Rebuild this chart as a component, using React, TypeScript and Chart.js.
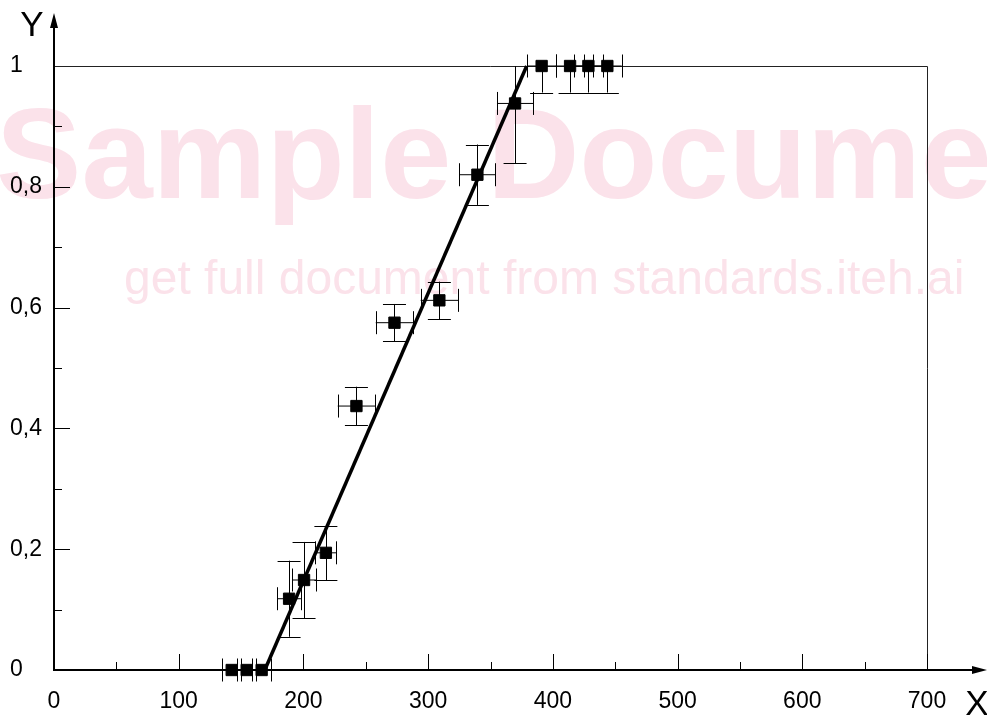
import { useEffect, useRef } from "react";
import { Chart, registerables } from "chart.js";

Chart.register(...registerables);

const xValues = [142.5, 154.5, 166.5, 188.5, 200.5, 218, 242.5, 273, 309, 339.5, 369.7, 391, 413.8, 428.5, 443.7];
const yValues = [0, 0, 0, 0.118, 0.149, 0.194, 0.437, 0.575, 0.612, 0.82, 0.938, 1, 1, 1, 1];
const xErrors = [7.5, 7.5, 7.5, 9.5, 9.5, 8.5, 15, 15, 15, 14.5, 14.5, 11.5, 11.5, 11.5, 11.5];
const yErrors = [0, 0, 0, 0.063, 0.063, 0.045, 0.032, 0.031, 0.031, 0.05, 0.099, 0.044, 0.044, 0.044, 0.044];
const fitX = [169, 379];
const fitY = [0, 1];
const xTickValues = [0, 100, 200, 300, 400, 500, 600, 700];
const yTickValues = [0, 0.2, 0.4, 0.6, 0.8, 1];
const yTickLabels = ["0", "0,2", "0,4", "0,6", "0,8", "1"];
const watermarkLine1 = "Sample Docume";
const watermarkLine2 = "get full document from standards.iteh.ai";

const FONT = "'Liberation Sans', Arial, sans-serif";

const decorPlugin = {
  id: "decor",
  beforeDraw(chart: any) {
    const ctx = chart.ctx;
    ctx.save();
    ctx.fillStyle = "#fbe2ea";
    ctx.textAlign = "left";
    ctx.textBaseline = "alphabetic";
    ctx.font = `bold 128px ${FONT}`;
    ctx.fillText(watermarkLine1, -4, 198);
    ctx.font = `48px ${FONT}`;
    ctx.fillText(watermarkLine2, 124, 294);
    ctx.restore();
  },
  beforeDatasetsDraw(chart: any) {
    const ctx = chart.ctx;
    const xs = chart.scales.x;
    const ys = chart.scales.y;
    const { left, right, top, bottom } = chart.chartArea;
    ctx.save();
    // frame
    ctx.strokeStyle = "#222";
    ctx.lineWidth = 1;
    ctx.beginPath();
    ctx.moveTo(left, Math.round(top) + 0.5);
    ctx.lineTo(Math.round(right) + 0.5, Math.round(top) + 0.5);
    ctx.lineTo(Math.round(right) + 0.5, bottom);
    ctx.stroke();
    // ticks
    ctx.strokeStyle = "#000";
    ctx.lineWidth = 1;
    ctx.beginPath();
    for (let i = 1; i <= 14; i++) {
      const v = i * 50;
      const px = Math.round(xs.getPixelForValue(v)) + 0.5;
      const len = i % 2 === 0 ? 16 : 8;
      ctx.moveTo(px, bottom);
      ctx.lineTo(px, bottom - len);
    }
    for (let i = 1; i <= 9; i++) {
      const v = i / 10;
      const py = Math.round(ys.getPixelForValue(v)) + 0.5;
      const len = i % 2 === 0 ? 16 : 8;
      ctx.moveTo(left, py);
      ctx.lineTo(left + len, py);
    }
    ctx.stroke();
    // axes
    ctx.lineWidth = 2;
    ctx.beginPath();
    ctx.moveTo(left - 1, bottom);
    ctx.lineTo(976, bottom);
    ctx.moveTo(left, bottom + 1);
    ctx.lineTo(left, 24);
    ctx.stroke();
    ctx.fillStyle = "#000";
    ctx.beginPath();
    ctx.moveTo(987, bottom);
    ctx.lineTo(972, bottom - 4);
    ctx.lineTo(972, bottom + 4);
    ctx.closePath();
    ctx.fill();
    ctx.beginPath();
    ctx.moveTo(left, 13);
    ctx.lineTo(left - 4, 28);
    ctx.lineTo(left + 4, 28);
    ctx.closePath();
    ctx.fill();
    // axis titles
    ctx.font = `35px ${FONT}`;
    ctx.textAlign = "center";
    ctx.textBaseline = "middle";
    ctx.fillText("Y", 32, 26);
    ctx.fillText("X", 977, 705);
    // error bars
    ctx.lineWidth = 1;
    ctx.strokeStyle = "#000";
    const cap = 11.5;
    ctx.beginPath();
    for (let i = 0; i < xValues.length; i++) {
      const cx = xs.getPixelForValue(xValues[i]);
      const cy = ys.getPixelForValue(yValues[i]);
      const xl = xs.getPixelForValue(xValues[i] - xErrors[i]);
      const xr = xs.getPixelForValue(xValues[i] + xErrors[i]);
      ctx.moveTo(xl, cy);
      ctx.lineTo(xr, cy);
      ctx.moveTo(Math.round(xl) + 0.5, cy - cap);
      ctx.lineTo(Math.round(xl) + 0.5, cy + cap);
      ctx.moveTo(Math.round(xr) + 0.5, cy - cap);
      ctx.lineTo(Math.round(xr) + 0.5, cy + cap);
      if (yErrors[i] > 0) {
        const lo = yValues[i] - yErrors[i];
        const hi = yValues[i] + yErrors[i];
        const ylo = ys.getPixelForValue(Math.max(0, lo));
        const yhi = ys.getPixelForValue(Math.min(1, hi));
        const vx = Math.round(cx) + 0.5;
        ctx.moveTo(vx, ylo);
        ctx.lineTo(vx, yhi);
        if (lo >= 0) {
          ctx.moveTo(cx - cap, Math.round(ylo) + 0.5);
          ctx.lineTo(cx + cap, Math.round(ylo) + 0.5);
        }
        if (hi <= 1) {
          ctx.moveTo(cx - cap, Math.round(yhi) + 0.5);
          ctx.lineTo(cx + cap, Math.round(yhi) + 0.5);
        }
      }
    }
    ctx.stroke();
    ctx.restore();
  },
};

export default function App() {
  const ref = useRef<HTMLCanvasElement>(null);
  useEffect(() => {
    const canvas = ref.current;
    if (!canvas) return;
    const points = xValues.map((x, i) => ({ x, y: yValues[i] }));
    const fit = fitX.map((x, i) => ({ x, y: fitY[i] }));
    const chart = new Chart(canvas, {
      type: "scatter",
      data: {
        datasets: [
          {
            type: "line",
            data: fit,
            borderColor: "#000",
            borderWidth: 3.5,
            pointRadius: 0,
            fill: false,
            clip: false,
            order: 2,
          } as any,
          {
            type: "scatter",
            data: points,
            pointStyle: "rect",
            pointRadius: 8,
            backgroundColor: "#000",
            borderColor: "#000",
            borderWidth: 1,
            clip: false,
            order: 1,
          } as any,
        ],
      },
      options: {
        responsive: false,
        animation: false,
        layout: { padding: { left: 10, right: 60, top: 66, bottom: 0 } },
        plugins: { legend: { display: false }, tooltip: { enabled: false } },
        events: [],
        scales: {
          x: {
            type: "linear",
            min: 0,
            max: 700,
            afterFit(scale: any) {
              scale.height = 45;
            },
            afterBuildTicks(scale: any) {
              scale.ticks = xTickValues.map((v) => ({ value: v }));
            },
            ticks: {
              color: "#000",
              font: { family: FONT, size: 23 },
              padding: 18,
              maxRotation: 0,
              autoSkip: false,
              callback: (v: any) => String(v),
            },
            grid: { display: false, drawTicks: false },
            border: { display: false },
          },
          y: {
            type: "linear",
            min: 0,
            max: 1,
            afterFit(scale: any) {
              scale.width = 44;
            },
            afterBuildTicks(scale: any) {
              scale.ticks = yTickValues.map((v) => ({ value: v }));
            },
            ticks: {
              color: "#000",
              font: { family: FONT, size: 23 },
              crossAlign: "far",
              autoSkip: false,
              callback: (v: any) => {
                const idx = yTickValues.findIndex((t) => Math.abs(t - Number(v)) < 1e-9);
                return idx >= 0 ? yTickLabels[idx] : "";
              },
            },
            grid: { display: false, drawTicks: false },
            border: { display: false },
          },
        },
      },
      plugins: [decorPlugin],
    });
    return () => chart.destroy();
  }, []);
  return (
    <div style={{ position: "absolute", left: 0, top: 0, width: 987, height: 715, background: "#fff" }}>
      <canvas ref={ref} width={987} height={715} />
    </div>
  );
}
